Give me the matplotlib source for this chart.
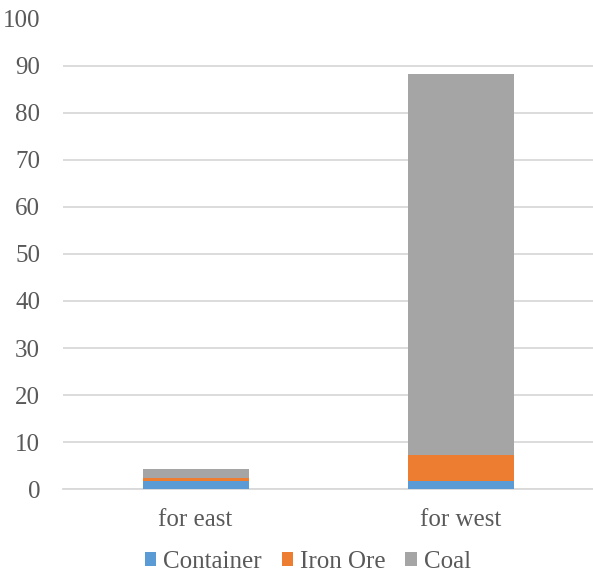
import matplotlib
matplotlib.use("Agg")
import matplotlib.pyplot as plt
from matplotlib.patches import Patch

categories = ["for east", "for west"]
container = [1.7, 1.7]
iron_ore = [0.7, 5.5]
coal = [1.9, 81.1]
series_names = ["Container", "Iron Ore", "Coal"]
colors = ["#5b9bd5", "#ed7d31", "#a5a5a5"]
y_ticks = list(range(0, 101, 10))

plt.rcParams["font.family"] = ["Liberation Serif", "DejaVu Serif"]
text_color = "#595959"

fig = plt.figure(figsize=(5.93, 5.75), dpi=100)
ax = fig.add_axes([63 / 593, 1 - 489.3 / 575, 1 - 63 / 593, (489.3 - 18.5) / 575])

x = list(range(len(categories)))
bottom = [0.0] * len(categories)
for vals, col in zip([container, iron_ore, coal], colors):
    ax.bar(x, vals, width=0.4, bottom=bottom, color=col, zorder=3)
    bottom = [b + v for b, v in zip(bottom, vals)]

ax.set_xlim(-0.5, 1.5)
ax.set_ylim(0, 100)
ax.set_yticks(y_ticks)
ax.set_xticks(x)
ax.set_xticklabels(categories)
ax.yaxis.grid(True, color="#d9d9d9", linewidth=1.3, zorder=0)
ax.tick_params(axis="both", length=0, labelsize=18, colors=text_color)
ax.tick_params(axis="y", pad=16.5)
ax.tick_params(axis="x", pad=14)
for side in ["left", "right", "top"]:
    ax.spines[side].set_visible(False)
ax.spines["bottom"].set_color("#d9d9d9")
ax.spines["bottom"].set_linewidth(1.3)

handles = [Patch(facecolor=c, edgecolor="none") for c in colors]
fig.legend(handles, series_names, loc="center", bbox_to_anchor=(0.519, 1 - 562 / 575),
           ncol=3, frameon=False, fontsize=18, handlelength=0.45, handleheight=0.45,
           handletextpad=0.28, columnspacing=0.8, labelcolor=text_color,
           borderpad=0.1)

fig.savefig("out.png", dpi=100)
